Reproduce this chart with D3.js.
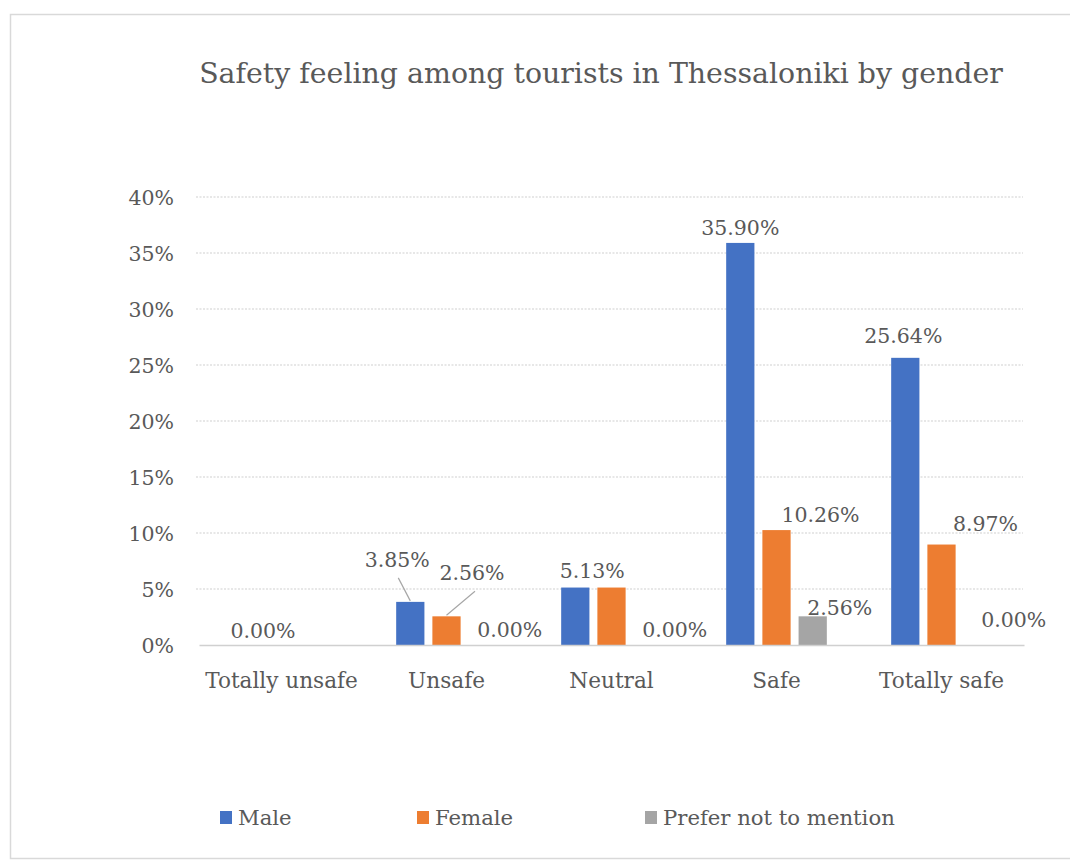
<!DOCTYPE html>
<html>
<head>
<meta charset="utf-8">
<script src="https://cdn.jsdelivr.net/npm/d3@7"></script>
<style>
  html, body { margin: 0; padding: 0; background: #fff; }
  svg { display: block; }
  text { font-family: "DejaVu Serif", "Liberation Serif", serif; fill: #595959; }
</style>
</head>
<body>
<svg id="chart" width="1070" height="863"></svg>
<script>
// Survey shares (%) per safety rating, by gender
const categories = ["Totally unsafe", "Unsafe", "Neutral", "Safe", "Totally safe"];
const seriesNames = ["Male", "Female", "Prefer not to mention"];
const male = [0.00, 3.85, 5.13, 35.90, 25.64];
const female = [0.00, 2.56, 5.13, 10.26, 8.97];
const preferNot = [0.00, 0.00, 0.00, 2.56, 0.00];
const yTicks = [0, 5, 10, 15, 20, 25, 30, 35, 40];
const seriesColors = ["#4472C4", "#ED7D31", "#A5A5A5"];

const seriesValues = [male, female, preferNot];

const svg = d3.select("#chart");
const W = 1070, H = 863;

// outer frame
svg.append("rect")
  .attr("x", 10.5).attr("y", 14.5)
  .attr("width", W).attr("height", 844)
  .attr("fill", "#fff").attr("stroke", "#D9D9D9").attr("stroke-width", 1.5);

// title
svg.append("text")
  .attr("x", 601).attr("y", 83)
  .attr("text-anchor", "middle")
  .style("font-size", "28.4px")
  .text("Safety feeling among tourists in Thessaloniki by gender");

const plot = { left: 199, right: 1024, top: 197, bottom: 645 };

const y = d3.scaleLinear().domain([0, 40]).range([plot.bottom, plot.top]);
const x0 = d3.scaleBand().domain(categories)
  .range([plot.left, plot.right]).paddingInner(0.39).paddingOuter(0.195);
const x1 = d3.scaleBand().domain(seriesNames)
  .range([0, x0.bandwidth()]).paddingInner(0.22).paddingOuter(0);

// dotted gridlines
svg.append("g").selectAll("line")
  .data(yTicks.filter(t => t > 0))
  .join("line")
  .attr("x1", plot.left - 3).attr("x2", plot.right - 1)
  .attr("y1", d => y(d)).attr("y2", d => y(d))
  .attr("stroke", "#D0D0D0").attr("stroke-width", 1.2)
  .attr("stroke-dasharray", "2,1.5");

// y axis labels
const yAxis = d3.axisLeft(y).tickValues(yTicks).tickFormat(d => d + "%").tickSize(0).tickPadding(0);
const gy = svg.append("g").attr("transform", `translate(174,0)`).call(yAxis);
gy.select(".domain").remove();
gy.selectAll("text")
  .attr("dy", "0.35em")
  .style("font-size", "20.5px")
  .style("font-family", "\"DejaVu Serif\", serif")
  .attr("fill", "#595959");

// bars
const rows = categories.map((c, ci) => ({
  cat: c,
  vals: seriesNames.map((s, si) => ({ s, si, ci, v: seriesValues[si][ci] }))
}));

const groups = svg.append("g").selectAll("g")
  .data(rows).join("g")
  .attr("transform", d => `translate(${x0(d.cat)},0)`);

groups.selectAll("rect")
  .data(d => d.vals).join("rect")
  .attr("x", d => x1(d.s))
  .attr("width", x1.bandwidth())
  .attr("y", d => y(d.v))
  .attr("height", d => y(0) - y(d.v))
  .attr("fill", d => seriesColors[d.si]);

// baseline axis
const xAxis = d3.axisBottom(x0).tickSize(0).tickPadding(0);
const gx = svg.append("g").attr("transform", `translate(0,${plot.bottom})`).call(xAxis);
gx.select(".domain").attr("stroke", "#D0D0D0").attr("stroke-width", 1.5);
gx.selectAll("text")
  .attr("y", 43).attr("dy", 0)
  .style("font-size", "21.6px")
  .style("font-family", "\"DejaVu Serif\", serif")
  .attr("fill", "#595959");

// data labels: which bars carry a label and how each label is nudged
const labelPlacement = [
  { s: 1, c: 0, dx: -18.5, dy: -7 },
  { s: 0, c: 1, dx: -13, dy: -35, leader: true },
  { s: 1, c: 1, dx: 25.5, dy: -36, leader: true },
  { s: 2, c: 1, dx: 27, dy: -8 },
  { s: 0, c: 2, dx: 17, dy: -9.5 },
  { s: 2, c: 2, dx: 27, dy: -8 },
  { s: 0, c: 3, dx: 0, dy: -8 },
  { s: 1, c: 3, dx: 44, dy: -8 },
  { s: 2, c: 3, dx: 27, dy: -1.5 },
  { s: 0, c: 4, dx: -2, dy: -15 },
  { s: 1, c: 4, dx: 44, dy: -13.5 },
  { s: 2, c: 4, dx: 36, dy: -18 }
];

const labels = labelPlacement.map(p => {
  const v = seriesValues[p.s][p.c];
  const cx = x0(categories[p.c]) + x1(seriesNames[p.s]) + x1.bandwidth() / 2;
  const top = y(v);
  return { ...p, v, cx, top, lx: cx + p.dx, ly: top + p.dy };
});

svg.append("g").selectAll("line")
  .data(labels.filter(d => d.leader)).join("line")
  .attr("x1", d => d.cx).attr("y1", d => d.top - 1)
  .attr("x2", d => d.lx + (d.dx > 0 ? 3 : 1)).attr("y2", d => d.ly + 11)
  .attr("stroke", "#A6A6A6").attr("stroke-width", 1.2);

svg.append("g").selectAll("text")
  .data(labels).join("text")
  .attr("x", d => d.lx).attr("y", d => d.ly)
  .attr("text-anchor", "middle")
  .style("font-size", "20.5px")
  .text(d => d.v.toFixed(2) + "%");

// legend
const legendX = [220, 417, 645];
const lg = svg.append("g").selectAll("g")
  .data(seriesNames).join("g")
  .attr("transform", (d, i) => `translate(${legendX[i]},811)`);
lg.append("rect")
  .attr("width", 12).attr("height", 13)
  .attr("fill", (d, i) => seriesColors[i]);
lg.append("text")
  .attr("x", 18).attr("y", 14)
  .style("font-size", "21.2px")
  .text(d => d);
</script>
</body>
</html>
